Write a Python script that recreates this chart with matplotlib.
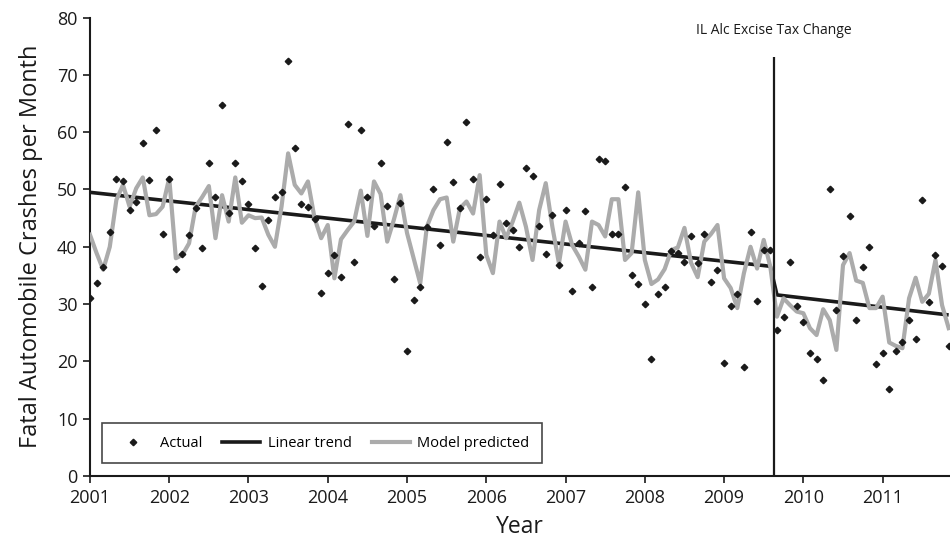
import numpy as np
import matplotlib
matplotlib.use("Agg")
import matplotlib.pyplot as plt
from matplotlib.lines import Line2D

plt.rcParams['font.family'] = ['Open Sans', 'DejaVu Sans']

# monthly data, Jan 2001 .. Nov 2011
actual = [31.0, 33.6, 36.5, 42.5, 51.9, 51.5, 46.4, 47.8, 58.1, 51.7, 60.4, 42.3,
          51.8, 36.2, 38.7, 42.1, 46.7, 39.7, 54.7, 48.7, 64.7, 45.9, 54.7, 51.5,
          47.5, 39.7, 33.1, 44.7, 48.7, 49.5, 72.4, 57.2, 47.5, 47.0, 44.9, 31.9,
          35.4, 38.5, 34.8, 61.5, 37.3, 60.3, 48.6, 43.7, 54.6, 47.1, 34.3, 47.6,
          21.8, 30.8, 33.0, 43.5, 50.1, 40.3, 58.2, 51.3, 46.8, 61.7, 51.9, 38.2,
          48.3, 42.1, 50.9, 44.2, 42.9, 40.0, 53.8, 52.3, 43.6, 38.7, 45.5, 36.9,
          46.4, 32.2, 40.6, 46.2, 33.0, 55.3, 54.9, 42.3, 42.3, 50.4, 35.0, 33.5,
          30.1, 20.4, 31.8, 33.0, 39.3, 38.9, 37.3, 41.8, 37.1, 42.3, 33.9, 36.0,
          19.7, 29.7, 31.8, 19.0, 42.5, 30.6, 39.4, 39.4, 25.5, 27.7, 37.4, 29.7,
          26.8, 21.4, 20.5, 16.8, 50.0, 29.0, 38.4, 45.4, 27.3, 36.5, 40.0, 19.6,
          21.4, 15.1, 21.8, 23.3, 27.2, 23.9, 48.2, 30.4, 38.5, 36.6, 22.7]

predicted = [42.1, 38.9, 36.0, 40.0, 48.2, 50.8, 47.0, 50.2, 52.1, 45.5, 45.7, 47.0,
             52.0, 38.0, 38.6, 40.6, 47.0, 48.7, 50.6, 41.5, 49.0, 44.4, 52.1, 44.2,
             45.5, 45.0, 45.1, 42.1, 40.0, 47.0, 56.3, 50.8, 49.3, 51.4, 45.0, 41.5,
             43.8, 34.5, 41.3, 42.9, 44.4, 49.8, 41.9, 51.4, 49.2, 40.9, 44.7, 49.0,
             42.4, 38.0, 33.6, 43.5, 46.4, 48.3, 48.6, 40.9, 46.7, 47.9, 45.8, 52.5,
             38.6, 35.4, 44.4, 41.5, 44.4, 47.7, 43.5, 37.7, 46.4, 51.1, 43.5, 37.1,
             44.4, 40.3, 38.3, 36.0, 44.4, 43.8, 41.8, 48.3, 48.3, 37.7, 38.9, 49.5,
             37.7, 33.5, 34.3, 36.1, 39.4, 39.9, 43.3, 37.2, 34.7, 40.9, 42.2, 43.8,
             34.5, 32.8, 29.3, 35.4, 40.0, 36.2, 41.2, 36.5, 27.8, 31.0, 29.8, 28.7,
             28.4, 25.8, 24.6, 29.1, 27.2, 22.0, 36.8, 38.9, 34.1, 33.7, 29.3, 29.3,
             31.3, 23.3, 22.7, 22.3, 31.0, 34.6, 30.4, 31.8, 37.7, 29.8, 25.8]

months = 2001 + np.arange(len(actual)) / 12

# linear trend with break at the tax change
trend_x = [2001.0, 2009.583, 2009.667, 2011.833]
trend_y = [49.5, 36.6, 31.6, 28.1]

tax_change = 2009.63
years = list(range(2001, 2012))

fig = plt.figure(figsize=(9.5, 5.4), dpi=100)
ax = fig.add_axes([0.0947, 0.1185, 0.9053, 0.849])

ax.plot(trend_x, trend_y, color='#1a1a1a', lw=2.6, zorder=2, solid_capstyle='butt')
ax.plot(months, predicted, color='#ababab', lw=3.0, zorder=3)
ax.plot(months, actual, ls='none', marker='D', ms=3.3, color='#1a1a1a', zorder=4)

ax.vlines(tax_change, 0, 73.2, color='#1a1a1a', lw=1.6, zorder=5)
ax.text(tax_change, 77.7, 'IL Alc Excise Tax Change', ha='center', va='center',
        fontsize=10, color='#1a1a1a')

ax.set_xlim(2001, 2011.85)
ax.set_ylim(0, 80)
ax.set_xticks(years)
ax.set_yticks(range(0, 81, 10))
ax.tick_params(direction='out', length=5, width=1.2, labelsize=13, pad=4, colors='#1a1a1a')
for s in ['top', 'right']:
    ax.spines[s].set_visible(False)
for s in ['left', 'bottom']:
    ax.spines[s].set_linewidth(1.5)
    ax.spines[s].set_color('#1a1a1a')

ax.set_xlabel('Year', fontsize=16.5, labelpad=6, color='#1a1a1a')
ax.set_ylabel('Fatal Automobile Crashes per Month', fontsize=17, labelpad=10, color='#1a1a1a')

handles = [Line2D([], [], ls='none', marker='D', ms=3.3, color='#1a1a1a'),
           Line2D([], [], color='#1a1a1a', lw=2.6),
           Line2D([], [], color='#ababab', lw=3.0)]
leg = ax.legend(handles, ['Actual', 'Linear trend', 'Model predicted'], ncol=3,
                loc='lower left', bbox_to_anchor=(0.014, 0.028), fontsize=10.5,
                frameon=True, fancybox=False, edgecolor='#1a1a1a', handlelength=2.6,
                columnspacing=1.4, handletextpad=0.5, borderpad=0.85, borderaxespad=0)
leg.get_frame().set_linewidth(1.2)

fig.savefig('out.png', dpi=100)
